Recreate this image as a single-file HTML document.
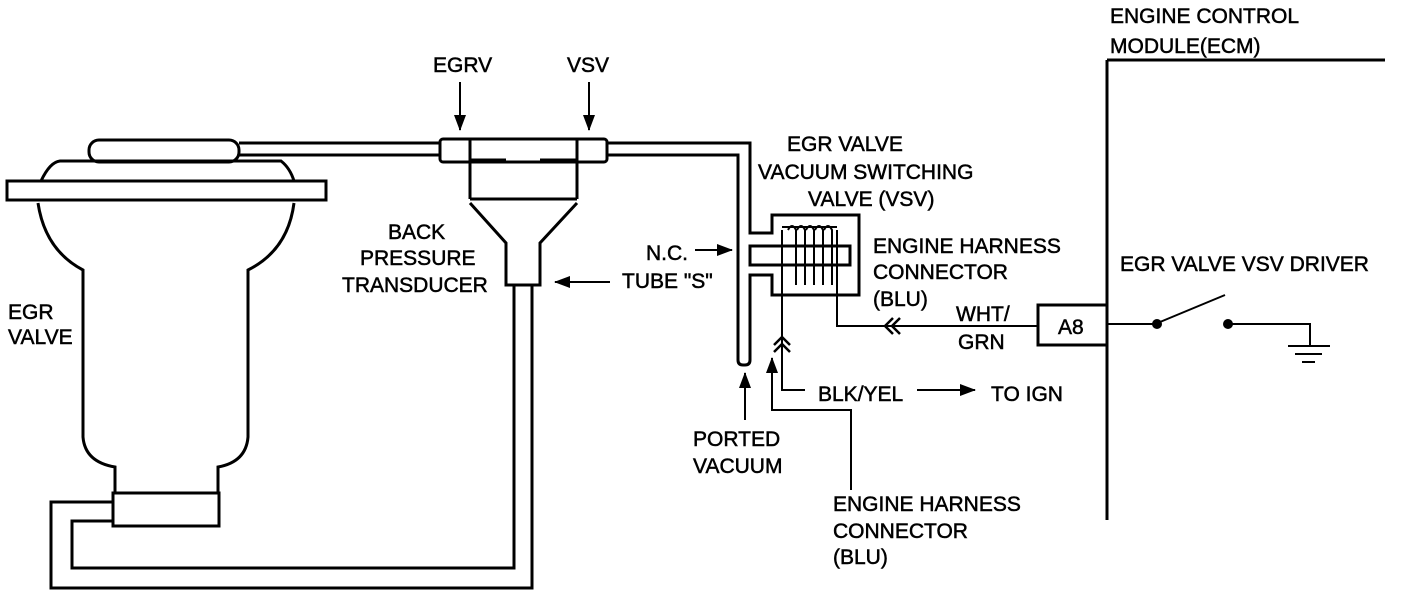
<!DOCTYPE html>
<html><head><meta charset="utf-8"><style>
html,body{margin:0;padding:0;background:#fff;}
svg{display:block;}
text{font-family:"Liberation Sans",Arial,sans-serif;font-size:21px;fill:#000;stroke:#000;stroke-width:0.5;}
</style></head><body>
<svg width="1408" height="596" viewBox="0 0 1408 596" xmlns="http://www.w3.org/2000/svg">
<defs><marker id="ah2" markerWidth="16" markerHeight="12" refX="15" refY="6" orient="auto" markerUnits="userSpaceOnUse"><path d="M0,0 L16,6 L0,12 z" fill="#000"/></marker></defs>
<g fill="none" stroke="#000" stroke-width="3">
<rect x="89" y="140" width="150" height="22" rx="10"/>
<path d="M41,181 Q50,162 60,161 L281,161 Q290,168 294,181"/>
<rect x="7" y="181" width="319" height="19" fill="#fff"/>
<path d="M38,203 Q45,250 83,270 L83,437 Q85,462 115,467 L115,493"/>
<path d="M294,203 Q288,250 248,270 L248,437 Q246,462 218,467 L218,493"/>
<rect x="113" y="493" width="106" height="33"/>
<path d="M113,502 L51,502 L51,588 L532,588 L532,285"/>
<path d="M113,521 L72,521 L72,568 L514,568 L514,285"/>
<path d="M239,143 L440,143 M239,155 L440,155"/>
<rect x="440" y="139" width="167" height="23" rx="3"/>
<path d="M470,139 L470,199 M577,139 L577,199 M470,160 L506,160 M540,160 L577,160"/>
<path d="M470,199 L577,199 M470,203 L506,243 L506,285 L540,285 L540,243 L577,203"/>
<path d="M607,143 L750,143 L750,233 L772,233 L772,215 L859,215 L859,295 L772,295 L772,275 L750,275 L750,360 Q750,365 745,365 L743,365 Q738,365 738,360 L738,155 L607,155"/>
<rect x="750" y="246" width="100" height="19"/>
<path d="M782,295 L782,230 M837,295 L837,230 M782,227 L837,227" stroke-width="2"/>
<g stroke-width="2"><path d="M788,230 Q792,222 796,230 L796,285 M797,230 Q801,222 805,230 L805,285 M806,230 Q810,222 814,230 L814,285 M815,230 Q819,222 823,230 L823,285 M824,230 Q828,222 832,230 L832,285"/></g>
<path d="M837,295 L837,326 L1038,326" stroke-width="2"/>
<path d="M893,318 L885,326 L893,334 M900,318 L892,326 L900,334" stroke-width="2.5"/>
<path d="M782,295 L782,390 L805,390" stroke-width="2"/>
<path d="M774,345 L782,337 L790,345 M774,352 L782,344 L790,352" stroke-width="2.5"/>
<rect x="1038" y="305" width="69" height="40"/>
<path d="M1107,60 L1385,60 M1107,60 L1107,520"/>
<path d="M1107,324 L1157,324 M1228,324 L1310,324 L1310,346 M1288,346 L1330,346 M1295,354 L1322,354 M1302,362 L1315,362" stroke-width="2"/>
<path d="M1160,322 L1225,295" stroke-width="2"/>
<g stroke-width="2">
<path d="M460,82 L460,130" marker-end="url(#ah2)"/>
<path d="M589,82 L589,130" marker-end="url(#ah2)"/>
<path d="M695,250 L732,250" marker-end="url(#ah2)"/>
<path d="M610,282 L555,282" marker-end="url(#ah2)"/>
<path d="M745,420 L745,373" marker-end="url(#ah2)"/>
<path d="M851,490 L851,410 L772,410 L772,358" marker-end="url(#ah2)"/>
<path d="M917,390 L975,390" marker-end="url(#ah2)"/>
</g>
</g>
<circle cx="1157" cy="324" r="5"/><circle cx="1228" cy="324" r="5"/>
<text x="433" y="72">EGRV</text>
<text x="567" y="72">VSV</text>
<text x="787" y="151">EGR VALVE</text>
<text x="758" y="179">VACUUM SWITCHING</text>
<text x="808" y="206">VALVE (VSV)</text>
<text x="873" y="253">ENGINE HARNESS</text>
<text x="873" y="279">CONNECTOR</text>
<text x="873" y="306">(BLU)</text>
<text x="646" y="260">N.C.</text>
<text x="622" y="288">TUBE "S"</text>
<text x="388" y="239">BACK</text>
<text x="360" y="265">PRESSURE</text>
<text x="342" y="292">TRANSDUCER</text>
<text x="8" y="319">EGR</text>
<text x="8" y="344">VALVE</text>
<text x="956" y="321">WHT/</text>
<text x="958" y="349">GRN</text>
<text x="1058" y="334">A8</text>
<text x="1110" y="23">ENGINE CONTROL</text>
<text x="1110" y="53">MODULE(ECM)</text>
<text x="1120" y="271">EGR VALVE VSV DRIVER</text>
<text x="818" y="401">BLK/YEL</text>
<text x="991" y="401">TO IGN</text>
<text x="693" y="446">PORTED</text>
<text x="693" y="473">VACUUM</text>
<text x="833" y="511">ENGINE HARNESS</text>
<text x="833" y="538">CONNECTOR</text>
<text x="833" y="564">(BLU)</text>
</svg>
</body></html>
